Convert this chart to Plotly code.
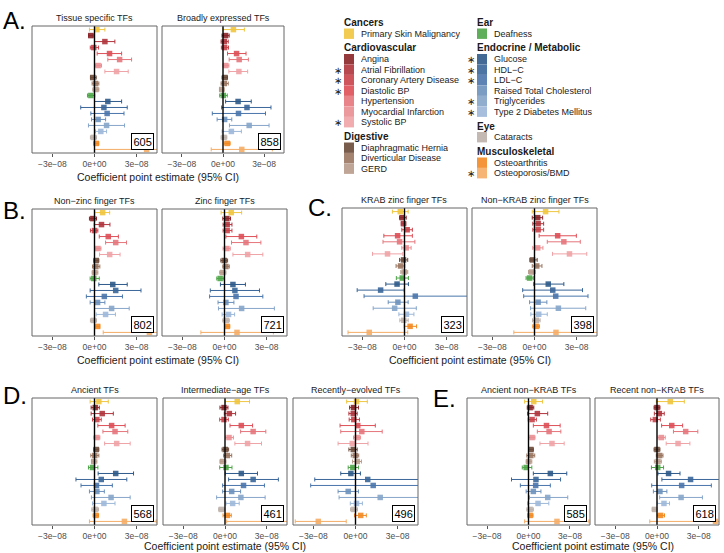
import plotly.graph_objects as go

W, H = 724, 553
SCALE = 1e-8  # all estimates below are in units of 1e-8

TRAITS = ["Primary Skin Malignancy", "Angina", "Atrial Fibrillation", "Coronary Artery Disease",
          "Diastolic BP", "Hypertension", "Myocardial Infarction", "Systolic BP",
          "Diaphragmatic Hernia", "Diverticular Disease", "GERD", "Deafness",
          "Glucose", "HDL−C", "LDL−C", "Raised Total Cholesterol", "Triglycerides",
          "Type 2 Diabetes Mellitus", "Cataracts", "Osteoarthritis", "Osteoporosis/BMD"]
GROUPS = ["Cancers"] + ["Cardiovascular"] * 7 + ["Digestive"] * 3 + ["Ear"] + \
         ["Endocrine / Metabolic"] * 6 + ["Eye"] + ["Musculoskeletal"] * 2
COLORS = ["#EFC53F", "#8B2428", "#B0343C", "#C9424A", "#DE4F58", "#E5767C", "#EA8E92", "#EFA3A6",
          "#6B4A3A", "#9A7560", "#B89B8A", "#4EA548", "#2E5A8A", "#3A6699", "#4A76AB", "#6D91BC",
          "#86A5CA", "#9DB8D8", "#BCB0AA", "#F28A22", "#F5AC66"]
SIGNIF = [False, False, True, True, True, False, False, True, False, False, False, False,
          True, True, True, False, True, True, False, False, True]

# ---- panel data (x1e-8) ----
EST_TISSUE = [0.17, -0.26, 0.74, -0.05, 1.07, 1.79, 0.26, 1.57, -0.12, 0.07, 0.10, -0.26, 0.95, 0.67, 0.90, 0.26, 0.86, 0.45, -0.07, 0.12, 3.71]
LO_TISSUE  = [-0.36, -0.42, 0.00, -0.30, 0.19, 0.95, 0.07, 0.74, -0.29, -0.17, -0.12, -0.50, 0.00, -0.98, -0.26, -0.21, -0.43, 0.07, -0.29, -0.07, 0.00]
HI_TISSUE  = [0.74, -0.10, 1.45, 0.29, 1.93, 2.64, 0.50, 2.40, 0.12, 0.31, 0.31, 0.02, 1.93, 2.33, 2.10, 0.79, 2.14, 0.86, 0.14, 0.31, 7.40]

EST_BROAD = [0.76, 0.19, 0.09, 0.12, 0.99, 1.18, 0.20, 1.16, 0.14, 0.09, -0.09, 0.02, 1.10, 1.75, 1.13, 0.12, 1.91, 0.61, 0.07, 0.31, 1.37]
LO_BROAD  = [0.00, -0.07, -0.14, -0.12, 0.33, 0.45, 0.00, 0.43, -0.07, -0.14, -0.26, -0.24, 0.19, -0.10, -0.78, -0.43, 0.47, -0.07, -0.14, 0.09, -0.86]
HI_BROAD  = [1.56, 0.45, 0.38, 0.40, 1.68, 1.85, 0.43, 1.80, 0.33, 0.38, 0.09, 0.31, 2.06, 3.50, 3.10, 0.64, 3.36, 1.34, 0.28, 0.52, 3.60]

EST_NONZNF = [0.58, -0.12, 0.50, 0.00, 0.98, 1.51, 0.24, 1.08, 0.12, 0.10, 0.02, -0.05, 1.30, 1.51, 0.70, 0.22, 1.22, 0.79, -0.07, 0.22, 3.91]
LO_NONZNF  = [0.02, -0.36, -0.02, -0.29, 0.34, 0.79, 0.05, 0.36, -0.05, -0.14, -0.17, -0.31, 0.31, -0.31, -0.58, -0.31, 0.00, 0.12, -0.29, 0.05, 0.62]
HI_NONZNF  = [1.08, 0.14, 1.10, 0.24, 1.70, 2.28, 0.46, 1.82, 0.31, 0.38, 0.24, 0.34, 2.33, 3.31, 1.99, 0.74, 2.47, 1.49, 0.14, 0.38, 7.20]

EST_ZNF = [0.48, 0.17, 0.19, 0.19, 1.20, 1.53, 0.17, 1.65, -0.02, 0.10, -0.12, -0.31, 0.60, 0.74, 0.82, 0.10, 1.22, 0.29, 0.12, 0.19, 0.89]
LO_ZNF  = [-0.24, -0.12, -0.10, -0.10, 0.10, 0.50, -0.10, 0.60, -0.26, -0.12, -0.34, -0.55, -0.29, -1.01, -1.06, -0.46, -0.43, -0.17, -0.12, 0.02, -1.68]
HI_ZNF  = [1.22, 0.43, 0.53, 0.53, 2.30, 2.59, 0.41, 2.73, 0.22, 0.34, 0.10, -0.05, 1.49, 2.49, 2.73, 0.67, 3.55, 0.72, 0.34, 0.38, 3.48]

EST_KRAB = [-0.30, -0.16, -0.07, 0.19, -0.49, -0.35, 0.12, -1.21, -0.07, -0.28, -0.02, -0.16, -0.53, -1.70, 0.77, -0.47, -0.70, 0.14, -0.05, 0.40, -2.51]
LO_KRAB  = [-0.86, -0.35, -0.23, -0.19, -1.47, -1.53, -0.19, -2.28, -0.35, -0.60, -0.26, -0.58, -1.33, -3.37, -2.88, -1.16, -2.23, -0.40, -0.33, -0.02, -4.02]
HI_KRAB  = [0.26, 0.12, 0.09, 0.56, 0.56, 0.74, 0.47, -0.12, 0.23, 0.02, 0.23, 0.28, 0.28, -0.02, 4.50, 0.26, 0.84, 0.67, 0.26, 0.86, 0.23]

EST_NONKRAB = [0.79, 0.23, 0.26, 0.26, 1.65, 2.09, 0.23, 2.49, -0.14, 0.16, -0.21, -0.35, 0.98, 1.30, 1.51, 0.26, 1.70, 0.30, 0.14, 0.12, 1.53]
LO_NONKRAB  = [-0.16, -0.16, -0.12, -0.12, 0.33, 0.91, -0.12, 1.28, -0.33, -0.16, -0.42, -0.60, -0.05, -0.84, -0.77, -0.35, -0.28, -0.26, -0.14, -0.12, -1.47]
HI_NONKRAB  = [1.74, 0.58, 0.65, 0.65, 2.98, 3.26, 0.60, 3.72, 0.19, 0.53, 0.05, -0.09, 2.09, 3.42, 3.81, 0.88, 3.65, 0.91, 0.40, 0.35, 4.50]

EST_ANCIENT = [0.31, 0.05, 0.55, 0.17, 1.22, 1.46, 0.17, 1.58, 0.12, 0.02, -0.05, -0.14, 1.51, 0.48, 0.14, 0.17, 1.18, 0.67, 0.05, 0.10, 2.13]
LO_ANCIENT  = [-0.31, -0.24, -0.24, -0.14, 0.24, 0.60, -0.05, 0.72, -0.05, -0.26, -0.22, -0.43, 0.26, -1.32, -0.96, -0.36, -0.22, -0.14, -0.19, -0.10, -0.36]
HI_ANCIENT  = [0.98, 0.34, 1.34, 0.48, 2.18, 2.37, 0.38, 2.54, 0.31, 0.31, 0.17, 0.24, 2.78, 2.30, 1.27, 0.70, 2.54, 1.46, 0.29, 0.29, 4.39]

EST_INTER = [0.88, -0.07, 0.31, -0.07, 1.17, 2.02, 0.29, 1.62, 0.02, 0.17, -0.17, 0.07, 1.17, 2.02, 1.33, 0.48, 1.14, 0.55, -0.26, 0.17, 5.00]
LO_INTER  = [0.02, -0.36, -0.05, -0.38, 0.36, 1.12, 0.05, 0.71, -0.21, -0.10, -0.36, -0.38, 0.02, 0.26, -0.17, -0.17, -0.60, 0.07, -0.45, -0.14, 0.12]
HI_INTER  = [1.76, 0.21, 0.76, 0.24, 1.98, 2.93, 0.60, 2.62, 0.26, 0.48, 0.07, 0.50, 2.33, 3.83, 2.83, 1.12, 2.88, 1.02, -0.02, 0.45, 9.90]

EST_RECENT = [0.07, -0.14, -0.16, -0.12, 0.16, 0.45, 0.12, -0.23, -0.16, -0.02, 0.12, -0.19, -0.33, 0.87, 1.26, -0.52, 1.76, 0.07, -0.12, 0.37, -2.65]
LO_RECENT  = [-0.63, -0.42, -0.47, -0.45, -1.10, -1.05, -0.14, -1.24, -0.47, -0.30, -0.21, -0.52, -1.05, -2.90, -3.19, -1.24, -1.17, -0.37, -0.35, -0.07, -4.29]
HI_RECENT  = [0.84, 0.21, 0.12, 0.28, 1.41, 1.90, 0.35, 0.89, 0.12, 0.23, 0.42, 0.21, 0.35, 4.60, 5.70, 0.21, 4.70, 0.49, 0.14, 0.77, -0.66]

EST_ANC_NK = [0.38, 0.12, 0.64, 0.26, 1.30, 1.49, 0.26, 1.70, 0.17, 0.17, 0.02, -0.17, 1.58, 0.54, 0.52, 0.35, 1.39, 0.69, 0.12, 0.12, 2.06]
LO_ANC_NK  = [-0.28, -0.09, -0.07, -0.02, 0.35, 0.64, 0.02, 0.83, 0.00, -0.12, -0.17, -0.45, 0.35, -1.23, -0.59, -0.17, 0.07, -0.07, -0.12, -0.07, -0.28]
HI_ANC_NK  = [1.02, 0.38, 1.39, 0.57, 2.29, 2.34, 0.47, 2.58, 0.35, 0.45, 0.24, 0.24, 2.77, 2.32, 1.58, 0.90, 2.84, 1.47, 0.35, 0.33, 4.37]

EST_REC_NK = [0.95, 0.00, 0.17, -0.12, 1.06, 2.06, 0.31, 1.51, 0.00, 0.19, 0.07, 0.05, 0.83, 2.41, 1.77, 0.21, 1.73, 0.50, -0.17, 0.26, 4.20]
LO_REC_NK  = [-0.05, -0.21, -0.19, -0.45, 0.33, 1.18, 0.07, 0.66, -0.21, -0.05, -0.19, -0.40, 0.07, 0.35, -0.38, -0.26, 0.19, 0.02, -0.35, 0.02, -0.52]
HI_REC_NK  = [1.96, 0.21, 0.52, 0.24, 1.84, 2.93, 0.59, 2.36, 0.21, 0.43, 0.31, 0.47, 1.65, 4.50, 3.90, 0.71, 3.26, 0.90, 0.00, 0.54, 8.90]

PANEL_TITLES = ["Tissue specific TFs", "Broadly expressed TFs", "Non−zinc finger TFs", "Zinc finger TFs",
                "KRAB zinc finger TFs", "Non−KRAB zinc finger TFs", "Ancient TFs", "Intermediate−age TFs",
                "Recently−evolved TFs", "Ancient non−KRAB TFs", "Recent non−KRAB TFs"]
PANEL_N = ["605", "858", "802", "721", "323", "398", "568", "461", "496", "585", "618"]
PANEL_EST = [EST_TISSUE, EST_BROAD, EST_NONZNF, EST_ZNF, EST_KRAB, EST_NONKRAB, EST_ANCIENT, EST_INTER, EST_RECENT, EST_ANC_NK, EST_REC_NK]
PANEL_LO = [LO_TISSUE, LO_BROAD, LO_NONZNF, LO_ZNF, LO_KRAB, LO_NONKRAB, LO_ANCIENT, LO_INTER, LO_RECENT, LO_ANC_NK, LO_REC_NK]
PANEL_HI = [HI_TISSUE, HI_BROAD, HI_NONZNF, HI_ZNF, HI_KRAB, HI_NONKRAB, HI_ANCIENT, HI_INTER, HI_RECENT, HI_ANC_NK, HI_REC_NK]

X_TICKS = [-3, 0, 3]
X_TICKTEXT = ["−3e−08", "0e+00", "3e−08"]
X_TITLE = "Coefficient point estimate (95% CI)"

# ---- layout (pixels) ----
BOXES = [(32, 157, 26, 153), (162, 284, 26, 153),
         (32, 157, 209, 336), (162, 287, 209, 336),
         (342, 467, 208, 336), (472, 597, 208, 336),
         (32, 157, 398, 525), (163, 287, 398, 525), (293, 418, 398, 525),
         (467, 590, 398, 525), (595, 719, 398, 525)]
XTITLE_POS = [(158, 177), (158, 360), (470, 360), (225, 546), (593, 546)]
LETTERS = [("A.", 1, 20), ("B.", 1, 210), ("C.", 306, 208), ("D.", 1, 396), ("E.", 431, 398)]

FONT = "Liberation Sans, Arial, sans-serif"
XR = 4.45 * SCALE
NROW = len(TRAITS)

def px(x):
    return x / W

def py(y):
    return 1 - y / H

fig = go.Figure()
layout = dict(width=W, height=H, margin=dict(l=0, r=0, t=0, b=0),
              paper_bgcolor="white", plot_bgcolor="white", showlegend=False,
              font=dict(family=FONT, color="#222"))
shapes, annotations = [], []

for p in range(len(BOXES)):
    x0, x1, y0, y1 = BOXES[p]
    sfx = "" if p == 0 else str(p + 1)
    xa, ya = "x" + sfx, "y" + sfx
    layout["xaxis" + sfx] = dict(domain=[px(x0), px(x1)], range=[-XR, XR], anchor=ya,
                                 tickvals=[t * SCALE for t in X_TICKS], ticktext=X_TICKTEXT,
                                 ticks="outside", ticklen=3, tickwidth=1, tickcolor="#555",
                                 tickfont=dict(size=8.5, color="#4d4d4d", family=FONT),
                                 showgrid=False, zeroline=False, showline=False, fixedrange=True)
    layout["yaxis" + sfx] = dict(domain=[py(y1), py(y0)], range=[NROW + 0.6, 0.4], anchor=xa,
                                 visible=False, showgrid=False, zeroline=False, fixedrange=True)
    est, lo, hi = PANEL_EST[p], PANEL_LO[p], PANEL_HI[p]
    for i in range(NROW):
        fig.add_trace(go.Scatter(
            x=[est[i] * SCALE], y=[i + 1], xaxis=xa, yaxis=ya, mode="markers",
            marker=dict(symbol="square", size=5.5, color=COLORS[i], opacity=0.9),
            error_x=dict(type="data", symmetric=False,
                         array=[(hi[i] - est[i]) * SCALE], arrayminus=[(est[i] - lo[i]) * SCALE],
                         color=COLORS[i], thickness=1, width=2),
            hoverinfo="skip"))
    shapes.append(dict(type="line", xref=xa, yref=ya + " domain", x0=0, x1=0, y0=0, y1=1,
                       line=dict(color="black", width=1.4), layer="above"))
    shapes.append(dict(type="rect", xref=xa + " domain", yref=ya + " domain", x0=0, x1=1, y0=0, y1=1,
                       line=dict(color="#666", width=1), layer="above"))
    annotations.append(dict(text=PANEL_TITLES[p], x=px((x0 + x1) / 2), y=py(y0 - 8), xref="paper", yref="paper",
                            showarrow=False, xanchor="center", yanchor="middle",
                            font=dict(size=9, color="#1a1a1a", family=FONT)))
    annotations.append(dict(text=PANEL_N[p], x=px(x1 - 3), y=py(y1 - 3), xref="paper", yref="paper",
                            showarrow=False, xanchor="right", yanchor="bottom",
                            bordercolor="black", borderwidth=1, borderpad=1.5, bgcolor="white",
                            font=dict(size=11, color="black", family=FONT)))

for (xc, yc) in XTITLE_POS:
    annotations.append(dict(text=X_TITLE, x=px(xc), y=py(yc), xref="paper", yref="paper", showarrow=False,
                            xanchor="center", yanchor="middle", borderpad=0,
                            font=dict(size=10.5, color="#1a1a1a", family=FONT)))

for (txt, lx, ly) in LETTERS:
    annotations.append(dict(text=txt, x=px(lx), y=py(ly), xref="paper", yref="paper", showarrow=False,
                            xanchor="left", yanchor="middle", font=dict(size=24, color="black", family=FONT)))

# ---- legend drawn manually ----
LEG_COLS = [(["Cancers", "Cardiovascular", "Digestive"], 344),
            (["Ear", "Endocrine / Metabolic", "Eye", "Musculoskeletal"], 477)]
for groups, cx in LEG_COLS:
    y = 22.5
    for g in groups:
        annotations.append(dict(text="<b>" + g + "</b>", x=px(cx - 1), y=py(y), xref="paper", yref="paper",
                                showarrow=False, xanchor="left", yanchor="middle", borderpad=0,
                                font=dict(size=10, color="#1a1a1a", family=FONT)))
        y += 11.2
        idx = [i for i in range(NROW) if GROUPS[i] == g]
        for i in idx:
            shapes.append(dict(type="rect", xref="paper", yref="paper",
                               x0=px(cx), x1=px(cx + 10), y0=py(y + 5.2), y1=py(y - 5.2),
                               fillcolor=COLORS[i], line=dict(width=0), opacity=0.9))
            annotations.append(dict(text=TRAITS[i], x=px(cx + 16), y=py(y), xref="paper", yref="paper",
                                    showarrow=False, xanchor="left", yanchor="middle", borderpad=0,
                                    height=10, font=dict(size=9, color="#222", family=FONT)))
            if SIGNIF[i]:
                annotations.append(dict(text="∗", x=px(cx - 6), y=py(y), xref="paper", yref="paper",
                                        showarrow=False, xanchor="center", yanchor="middle", borderpad=0,
                                        height=8, font=dict(size=10, color="#222", family=FONT)))
            y += 10.5
        y += 3.8

layout["shapes"] = shapes
layout["annotations"] = annotations
fig.update_layout(**layout)
fig.write_html("out.html", config={"displayModeBar": False},
               post_script="document.body.style.margin='0';document.body.style.overflow='hidden';")
